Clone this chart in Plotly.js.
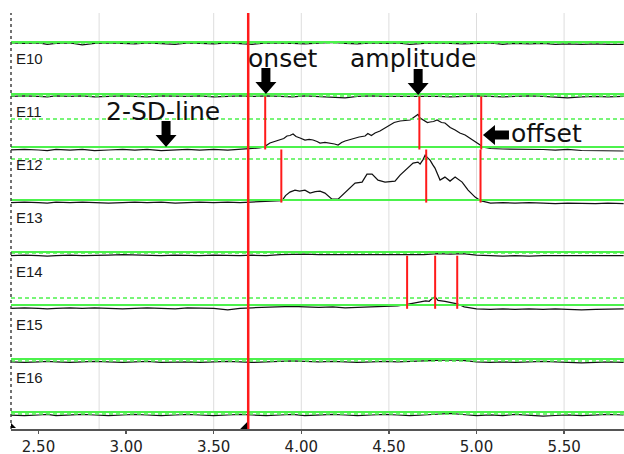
<!DOCTYPE html>
<html><head><meta charset="utf-8">
<script src="https://cdn.plot.ly/plotly-3.0.1.min.js"></script>
<style>html,body{margin:0;padding:0;background:#fff}#chart{width:624px;height:454px}</style>
</head><body><div id="chart"></div>
<script>
// ---- data ----
const channels = ['E9', 'E10', 'E11', 'E12', 'E13', 'E14', 'E15', 'E16'];
const labelled = ['E10', 'E11', 'E12', 'E13', 'E14', 'E15', 'E16'];

// shared time base (s) for quiet channels
const tFlat = [2.34, 2.42, 2.50, 2.55, 2.60, 2.68, 2.75, 2.82, 2.90, 2.98, 3.05, 3.12, 3.20, 3.28, 3.35, 3.42, 3.50, 3.58, 3.65, 3.72, 3.80, 3.88, 3.95, 4.02, 4.10, 4.18, 4.25, 4.32, 4.40, 4.48, 4.55, 4.62, 4.70, 4.78, 4.85, 4.92, 5.00, 5.08, 5.15, 5.22, 5.30, 5.38, 5.45, 5.52, 5.60, 5.68, 5.75, 5.84];

const ampE9  = [0.5, 0, 0.5, -1, 0, 0.5, -1.5, 0, 0.5, 0, -0.5, 0.5, 0, -1, 0.5, 0, -0.5, 0.5, 0, -1, 0.5, 0.5, 0, -0.5, 0.5, 1, 0, -0.5, 0.5, 0, 0.5, -1, 0, 0.5, 0, -0.5, 0, 0.5, -1, 0, -0.5, 0, -1, -0.5, -1, -0.5, -1, -1];
const ampE10 = [0, 0.5, 0, -0.5, 0.5, 0, 0.5, -0.5, 0, 0.5, 0, -0.5, 0.5, 0, 0, 0.5, -0.5, 0, 0.5, 0, 0.5, 0, -0.5, 0.5, 0, -1, -1.5, 0, 0.5, 0, 0, 0.5, 0.5, 0, -0.5, 0, 0.5, 0, -0.5, 0, 0.5, 0, -1, -1.5, -0.5, 0, -0.5, 0];
const ampE13 = [0, 0.5, 0, -0.5, 0, 0.5, 0, 0, 0.5, 1, 0.5, 0.5, 0, 0.5, 0, 0, 0.5, 0, 0, 0.5, 0, 1, 1.5, 1.5, 1, 1, 0.5, 0.5, 1, 0.5, 0.5, 1, 1, 2, 1.5, 2, 0.5, 0, -0.5, 0, -0.5, 0, 0, -0.5, 0, -0.5, -0.5, 0];
const ampE15 = [0, -0.5, 0, 0.5, 0, -0.5, 0, 0.5, 0, -0.5, 0, 0.5, -0.5, 0, 0, -0.5, 0, 0.5, 0, -0.5, 0, 0.5, 1, 0.5, 0, 0.5, 0, -0.5, 0, 0.5, 0, 0.5, 1, 2, 2, 1.5, 0, -0.5, 0, -0.5, 0, 0.5, 0, -0.5, -1, -0.5, 0, -0.5];
const ampE16 = [0, -0.5, 0, 0.5, -0.5, 0, 0.5, 0, -0.5, 0, 0.5, 0, -0.5, 0, 0.5, 0, -0.5, 0, 0.5, 0, -0.5, 0, 0.5, -0.5, 0, 0.5, 0, -0.5, 0, 0.5, 0, -0.5, 0, 0.5, 1.5, 0.5, -0.5, 0, -0.5, 0.5, 0, -1, -0.5, 0, -0.5, 0, 0.5, 0];

// active channels
const tE11 = [2.34, 2.42, 2.50, 2.55, 2.60, 2.68, 2.75, 2.82, 2.90, 2.98, 3.05, 3.12, 3.20, 3.28, 3.35, 3.42, 3.50, 3.58, 3.65, 3.72, 3.76, 3.793, 3.80, 3.821, 3.85, 3.878, 3.90, 3.918, 3.935, 3.953, 3.97, 3.993, 4.021, 4.045, 4.067, 4.09, 4.107, 4.135, 4.164, 4.19, 4.21, 4.23, 4.25, 4.28, 4.307, 4.33, 4.364, 4.38, 4.40, 4.421, 4.449, 4.475, 4.506, 4.53, 4.564, 4.59, 4.621, 4.649, 4.666, 4.678, 4.69, 4.707, 4.72, 4.735, 4.755, 4.775, 4.80, 4.82, 4.85, 4.878, 4.905, 4.935, 4.96, 4.992, 5.021, 5.032, 5.08, 5.15, 5.22, 5.30, 5.38, 5.45, 5.52, 5.60, 5.68, 5.75, 5.84];
const ampE11 = [-0.5, 0, -0.5, -1, 0, -0.5, 0, -1, -0.5, 0, -0.5, 0, -1, -0.5, 0, -0.5, 0, -0.5, 0, 0.5, 1.5, 2.5, 4, 6.5, 8, 9.5, 11, 13.5, 14, 15.5, 13, 11.5, 9.5, 10, 9.5, 8, 6.5, 7, 6.5, 5.5, 4.5, 7, 8.5, 10, 11.5, 12.5, 13.5, 16, 14, 16.5, 18.5, 21, 24.5, 27, 28.5, 29, 29.5, 33, 35, 31.5, 30, 28.5, 27, 27.5, 28, 29.5, 27, 26.5, 22, 19.5, 16.5, 14.5, 11.5, 8.5, 4.5, 2.5, 1, 0.5, 0.5, 0, 0, -0.5, 0, -1, -1, -1.5, -1.5];

const tE12 = [2.34, 2.42, 2.50, 2.55, 2.60, 2.68, 2.75, 2.82, 2.90, 2.98, 3.05, 3.12, 3.20, 3.28, 3.35, 3.42, 3.50, 3.58, 3.65, 3.72, 3.78, 3.84, 3.89, 3.91, 3.935, 3.964, 3.99, 4.021, 4.05, 4.08, 4.107, 4.135, 4.16, 4.175, 4.21, 4.25, 4.28, 4.307, 4.347, 4.375, 4.404, 4.438, 4.478, 4.51, 4.535, 4.564, 4.604, 4.638, 4.666, 4.678, 4.695, 4.707, 4.72, 4.735, 4.75, 4.763, 4.792, 4.82, 4.849, 4.878, 4.918, 4.952, 4.992, 5.021, 5.08, 5.15, 5.22, 5.30, 5.38, 5.45, 5.52, 5.60, 5.68, 5.75, 5.84];
const ampE12 = [0, 0.5, 0, -0.5, 0.5, 0, 0.5, 0, -0.5, 0, 0.5, 0, 0.5, -0.5, 0, 0.5, 0, 0.5, 0, 0.5, 1.5, 2, 2, 7, 10.5, 12.5, 11.5, 12.5, 9.5, 11, 11.5, 9.5, 6, 3.5, 3.5, 10.5, 15, 19.5, 20.5, 28.5, 28.5, 22.5, 20.5, 21, 21.5, 27.5, 34.5, 39.5, 40.5, 38.5, 43, 47.5, 45, 42.5, 38, 34.5, 22.5, 25.5, 21.5, 25.5, 20.5, 12.5, 5.5, 2, -0.5, 0, -0.5, 0, -0.5, -1, -0.5, -1, -1, -0.5, -1];

const tE14 = [2.34, 2.42, 2.50, 2.55, 2.60, 2.68, 2.75, 2.82, 2.90, 2.98, 3.05, 3.12, 3.20, 3.28, 3.35, 3.42, 3.50, 3.58, 3.65, 3.72, 3.80, 3.88, 3.95, 4.02, 4.10, 4.18, 4.25, 4.32, 4.40, 4.48, 4.55, 4.604, 4.64, 4.68, 4.71, 4.73, 4.745, 4.764, 4.78, 4.82, 4.86, 4.89, 4.93, 4.97, 5.00, 5.08, 5.15, 5.22, 5.30, 5.38, 5.45, 5.52, 5.60, 5.68, 5.75, 5.84];
const ampE14 = [0.5, 1, 0.5, 0, 0.5, 1, 0.5, 1, 0.5, 0, 0.5, 1, 0.5, 0, 1, 0.5, 0.5, -1, 0.5, 1, 1.5, 2, 2.5, 2, 1.5, 2, 1, 1.5, 2, 3, 3, 4.5, 5.5, 6.5, 8, 7.5, 10, 12, 8.5, 7.5, 6, 5, 2, 0.5, 0, -0.5, 0, -0.5, 0, -0.5, 0, -0.5, -1, -0.5, 0, 0];

// per-channel reference levels (amplitude above trace baseline)
const baseLevel = [1.3, 2.4, 2.5, 2.6, 3.7, 3.8, 2.9, 3.0];
const sdLevel   = [0.3, 0.4, 30.5, 43.6, 2.7, 10.8, 0.9, 1.0];

// detected onset / amplitude / offset times (s)
const eventChannels = ['E11', 'E12', 'E14'];
const eventsE11 = [3.794, 4.674, 5.027];
const eventsE12 = [3.886, 4.713, 5.023];
const eventsE14 = [4.604, 4.764, 4.890];
const cursorTime = 3.697;

// x axis ticks
const tickVals = [2.5, 3.0, 3.5, 4.0, 4.5, 5.0, 5.5];
const gridVals = [2.846, 3.5, 4.0, 4.5, 5.0, 5.5];

// ---- layout helpers ----
const SPACING = 53.1, TOP_BASE = 385.7;
const off = i => TOP_BASE - i * SPACING;
const series = {
  E9: [tFlat, ampE9], E10: [tFlat, ampE10], E11: [tE11, ampE11], E12: [tE12, ampE12],
  E13: [tFlat, ampE13], E14: [tE14, ampE14], E15: [tFlat, ampE15], E16: [tFlat, ampE16]
};
const events = {E11: eventsE11, E12: eventsE12, E14: eventsE14};
const GREEN = '#4cf24c', RED = '#ff1a1a', INK = '#1a1a1a';

const traces = channels.map((ch, i) => ({
  type: 'scatter', mode: 'lines', name: ch, hoverinfo: 'skip',
  x: series[ch][0], y: series[ch][1].map(a => off(i) + a),
  line: {color: '#111', width: 1.25}
}));

const shapes = [];
gridVals.forEach(g => shapes.push({type: 'line', layer: 'below', xref: 'x', yref: 'paper', x0: g, x1: g, y0: 0, y1: 1, line: {color: '#dddddd', width: 1}}));
channels.forEach((ch, i) => {
  shapes.push({type: 'line', xref: 'paper', x0: 0, x1: 1, yref: 'y', y0: off(i) + baseLevel[i], y1: off(i) + baseLevel[i], line: {color: GREEN, width: 2}});
  shapes.push({type: 'line', xref: 'paper', x0: 0, x1: 1, yref: 'y', y0: off(i) + sdLevel[i], y1: off(i) + sdLevel[i], line: {color: GREEN, width: 1.5, dash: '4px,3px'}});
});
eventChannels.forEach(ch => {
  const i = channels.indexOf(ch);
  events[ch].forEach(t => shapes.push({type: 'line', xref: 'x', yref: 'y', x0: t, x1: t, y0: off(i), y1: off(i - 1), line: {color: RED, width: 2}}));
});
shapes.push({type: 'line', xref: 'x', yref: 'paper', x0: cursorTime, x1: cursorTime, y0: 0, y1: 1, line: {color: RED, width: 2.5}});
shapes.push({type: 'path', xref: 'x', yref: 'paper', xsizemode: 'pixel', ysizemode: 'pixel', xanchor: cursorTime, yanchor: 0,
  path: 'M-8,0 L-1,0 L-1,7 Z', fillcolor: '#000', line: {width: 0}});
shapes.push({type: 'line', xref: 'paper', yref: 'paper', x0: 0, x1: 0, y0: 0, y1: 1, line: {color: '#444', width: 1.5, dash: 'dot'}});
shapes.push({type: 'path', xref: 'paper', yref: 'paper', xsizemode: 'pixel', ysizemode: 'pixel', xanchor: 0, yanchor: 0,
  path: 'M0,1 L5,1 L0,6 Z', fillcolor: '#000', line: {width: 0}});

// block arrows (tip anchored in data coords)
const downArrow = 'M0,0 L-10.5,12 L-4.5,12 L-4.5,26 L4.5,26 L4.5,12 L10.5,12 Z';
const leftArrow = 'M0,0 L12,10 L12,4.5 L26,4.5 L26,-4.5 L12,-4.5 L12,-10 Z';
[[3.798, 335, downArrow], [4.667, 334, downArrow], [3.228, 282, downArrow], [5.037, 294, leftArrow]].forEach(a => {
  shapes.push({type: 'path', xref: 'x', yref: 'y', xsizemode: 'pixel', ysizemode: 'pixel', xanchor: a[0], yanchor: a[1], path: a[2], fillcolor: '#000', line: {width: 0}});
});

const annotations = [];
labelled.forEach(ch => {
  const i = channels.indexOf(ch);
  annotations.push({xref: 'paper', yref: 'y', x: 0, y: off(i - 1) - 15.3, xanchor: 'left', yanchor: 'middle', xshift: 3,
    text: ch, showarrow: false, font: {family: 'Liberation Sans, Arial, sans-serif', size: 15, color: INK}});
});
const bigFont = {family: 'DejaVu Sans, sans-serif', size: 25, color: '#111'};
[['onset', 3.898, 371], ['amplitude', 4.635, 371], ['2-SD-line', 3.213, 318], ['offset', 5.397, 296]].forEach(t => {
  annotations.push({xref: 'x', yref: 'y', x: t[1], y: t[2], text: t[0], showarrow: false, xanchor: 'center', yanchor: 'middle', font: bigFont});
});

const layout = {
  width: 624, height: 454,
  margin: {l: 11, r: 0, t: 13, b: 25, pad: 0},
  paper_bgcolor: '#fff', plot_bgcolor: '#fff',
  showlegend: false,
  xaxis: {range: [2.343, 5.842], tickvals: tickVals, tickformat: '.2f', showgrid: false, zeroline: false,
    showline: true, linecolor: '#555', linewidth: 1.5, ticks: 'outside', ticklen: 3, tickcolor: '#555', tickwidth: 1.5,
    tickfont: {family: 'DejaVu Sans, sans-serif', size: 15, color: '#222'}},
  yaxis: {range: [0, 416], visible: false, showgrid: false, zeroline: false},
  shapes: shapes, annotations: annotations
};
Plotly.newPlot('chart', traces, layout, {displayModeBar: false, staticPlot: true});
</script></body></html>
